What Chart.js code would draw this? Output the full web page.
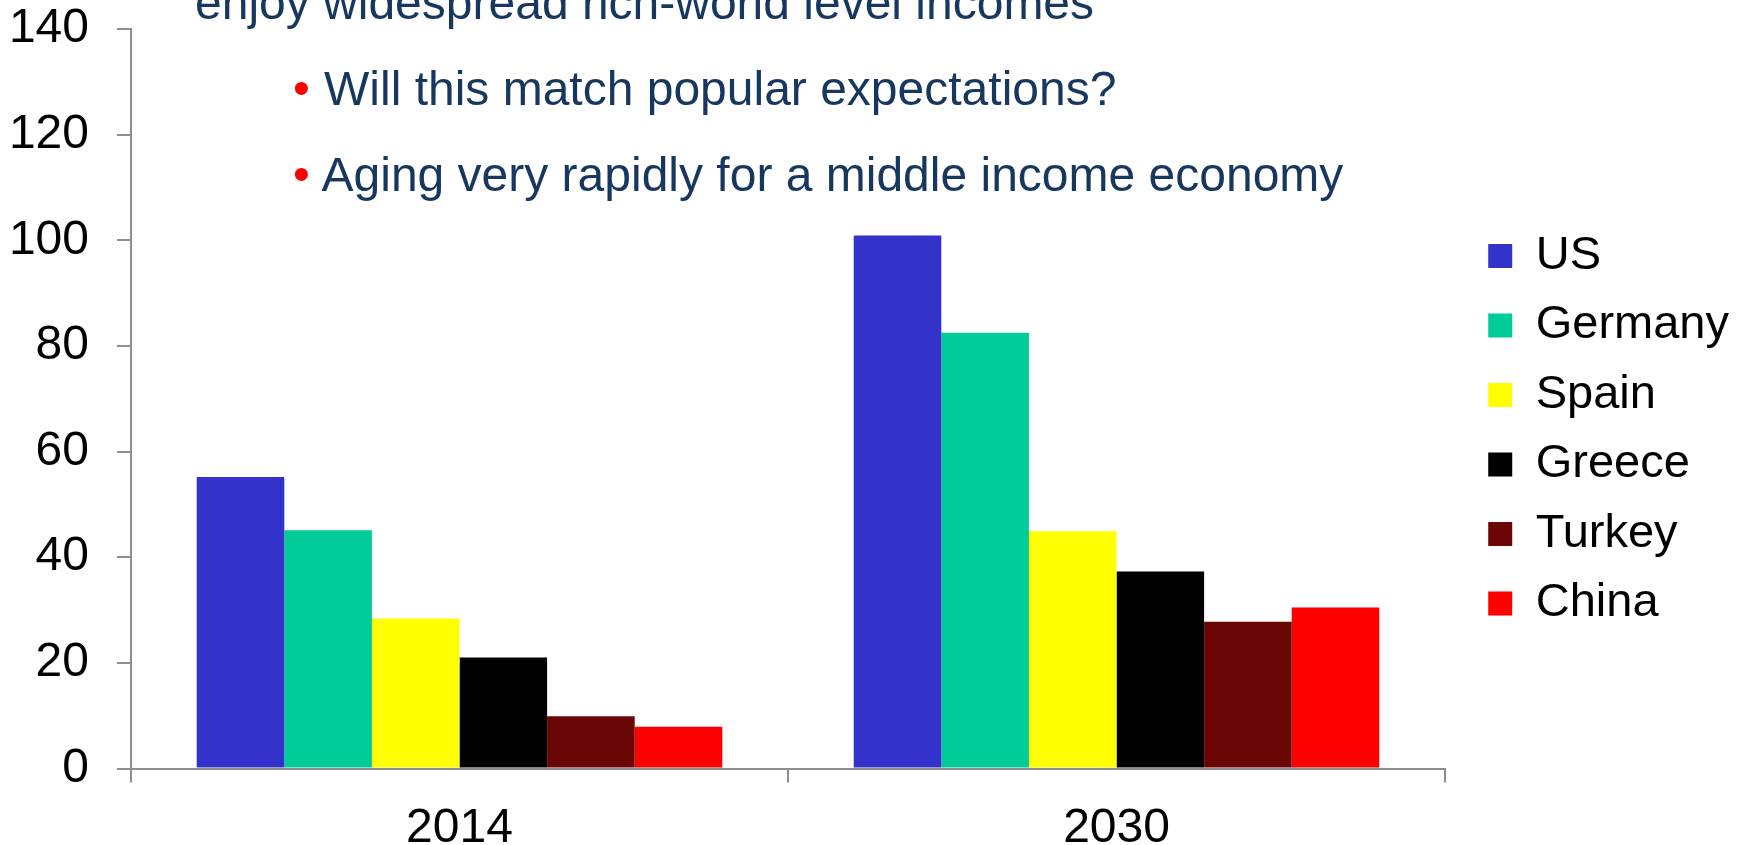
<!DOCTYPE html>
<html>
<head>
<meta charset="utf-8">
<script src="https://cdn.jsdelivr.net/npm/chart.js@4"></script>
<style>
  html, body { margin: 0; padding: 0; background: #fff; overflow: hidden; }
  #wrap { position: relative; width: 1743px; height: 845px; }
  .note { position: absolute; font-family: Arial, "Liberation Sans", sans-serif; font-size: 48px; line-height: 48px; color: #17375E; white-space: nowrap; }
  .dot { color: #FF0000; }
</style>
</head>
<body>
<div id="wrap">
  <canvas id="mycanvas"></canvas>
  <div class="note" style="left:195px; top:-20.6px;">enjoy widespread rich-world level incomes</div>
  <div class="note dot" style="left:293px; top:64px;">•</div>
  <div class="note" style="left:324px; top:65.4px;">Will this match popular expectations?</div>
  <div class="note dot" style="left:293px; top:150px;">•</div>
  <div class="note" style="left:321.5px; top:151.1px;">Aging very rapidly for a middle income economy</div>
</div>
<script>
var years = ['2014', '2030'];
var countries = ['US', 'Germany', 'Spain', 'Greece', 'Turkey', 'China'];
var colors = ['#3333CC', '#00CC99', '#FFFF00', '#000000', '#6B0606', '#FF0000'];
var us = [55.2, 100.9];
var germany = [45.1, 82.5];
var spain = [28.4, 44.9];
var greece = [21.0, 37.3];
var turkey = [9.9, 27.8];
var china = [7.9, 30.5];
var yTicks = [0, 20, 40, 60, 80, 100, 120, 140];

var series = [us, germany, spain, greece, turkey, china];
var datasets = [];
for (var i in series) {
	datasets.push({
		label: countries[i],
		data: series[i],
		backgroundColor: colors[i],
		borderWidth: 0,
		categoryPercentage: 0.8,
		barPercentage: 1.0
	});
}

var axisGray = '#8E8E8E';
var font = { family: 'Arial, "Liberation Sans", sans-serif', size: 48 };

var ctx = document.getElementById('mycanvas');
var barGraph = new Chart(ctx, {
	type: 'bar',
	data: { labels: years, datasets: datasets },
	options: {
		responsive: true,
		maintainAspectRatio: false,
		animation: false,
		layout: { padding: { top: 0, left: 0, right: 4, bottom: 0 } },
		plugins: {
			tooltip: { enabled: false },
			legend: {
				position: 'right',
				// empty title only nudges the legend rows down a little
				title: { display: true, text: ' ', font: { size: 10 }, padding: 1.25 },
				labels: {
					color: '#000',
					font: { family: font.family, size: 47 },
					boxWidth: 24,
					boxHeight: 24,
					padding: 22.5
				}
			}
		},
		scales: {
			x: {
				grid: { display: true, drawOnChartArea: false, offset: true, tickLength: 14, color: axisGray, lineWidth: 2 },
				border: { display: true, color: axisGray, width: 2 },
				ticks: { color: '#000', font: font, padding: 17 },
				afterFit: function(s) { s.height = 76.5; }
			},
			y: {
				min: 0,
				max: 140,
				afterBuildTicks: function(s) { s.ticks = yTicks.map(function(v) { return { value: v }; }); },
				grid: { display: true, drawOnChartArea: false, tickLength: 14, color: axisGray, lineWidth: 2 },
				border: { display: true, color: axisGray, width: 2 },
				ticks: { color: '#000', font: font, padding: 28 },
				afterFit: function(s) {
					s.width = 131;
					s.paddingTop = 29;
					s.paddingBottom = 0;
				}
			},
			gap: {
				type: 'linear',
				position: 'right',
				display: true,
				grid: { display: false },
				border: { display: false },
				ticks: { display: false },
				afterFit: function(s) { s.width = 20.7; }
			}
		}
	}
});
</script>
</body>
</html>
